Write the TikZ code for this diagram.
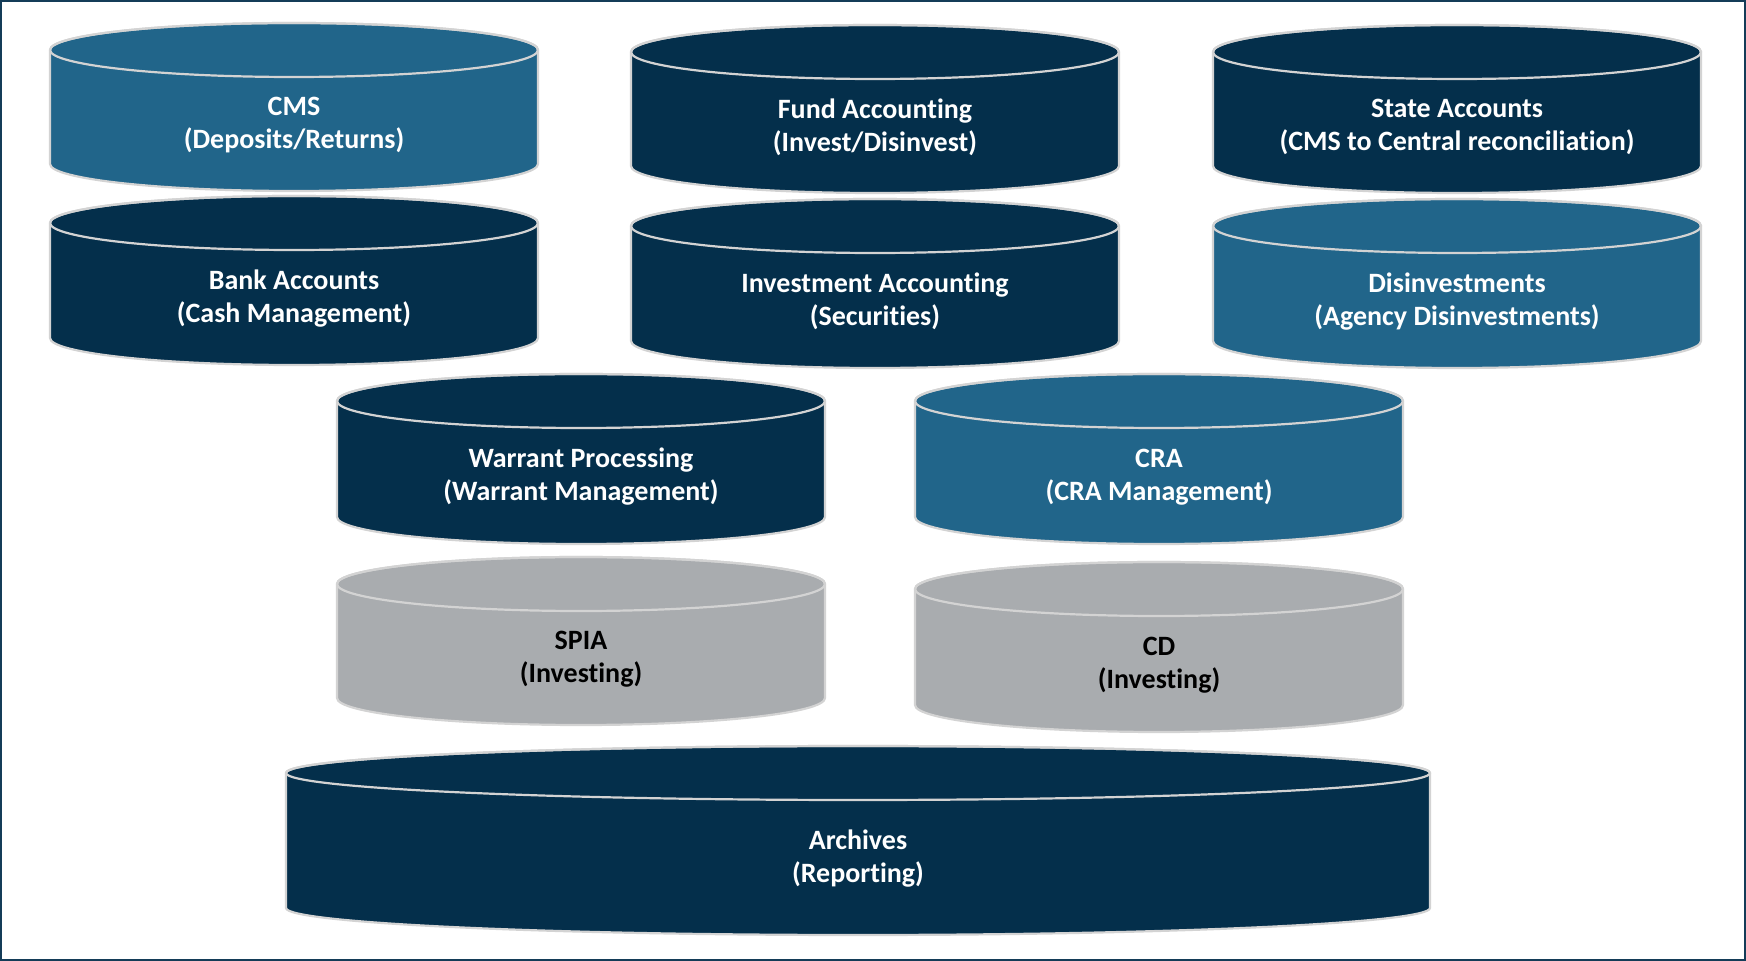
\documentclass[tikz,border=0pt]{standalone}
\usepackage{fontspec}
\setmainfont{Carlito}[Ligatures=NoCommon]
\usetikzlibrary{calc}
\definecolor{navy}{RGB}{4,47,75}
\definecolor{midblue}{RGB}{33,101,138}
\definecolor{silver}{RGB}{169,172,175}
\definecolor{rimgray}{RGB}{211,211,211}
\definecolor{framecol}{RGB}{20,60,88}
\tikzset{
 drum/.style={draw=rimgray, line width=1.1pt},
 lbl/.style={align=center, font=\bfseries\fontsize{14}{16.5}\selectfont, inner sep=0pt},
 frame/.style={draw=framecol, line width=1.2pt}
}
% name, centre x, top y, bottom y, half width, fill, text colour, first line, second line
\newcommand{\drumshape}[9]{%
 \filldraw[drum, fill=#6] (#2-#5,-#3) -- (#2-#5,-#4)
   arc[start angle=180, end angle=360, x radius=#5, y radius=27]
   -- (#2+#5,-#3)
   arc[start angle=0, end angle=180, x radius=#5, y radius=27] -- cycle;
 \draw[drum] (#2,-#3) ellipse[x radius=#5, y radius=27];
 \node[lbl, text=#7] (#1) at (#2,{-(#3+#4+27)/2-4.5}) {#8\\#9};
}

\begin{document}
\begin{tikzpicture}[x=0.5pt, y=0.5pt]
\useasboundingbox (0,0) rectangle (1746,-961);
\draw[frame] (1,-1) rectangle (1745,-960);
\drumshape{cms}{294}{50}{164}{244}{midblue}{white}{CMS}{(Deposits/Returns)}
\drumshape{fund}{875}{52}{166}{244}{navy}{white}{Fund Accounting}{(Invest/Disinvest)}
\drumshape{state}{1457}{52}{166}{244}{navy}{white}{State Accounts}{(CMS to Central reconciliation)}
\drumshape{bank}{294}{223}{338}{244}{navy}{white}{Bank Accounts}{(Cash Management)}
\drumshape{invest}{875}{226}{341}{244}{navy}{white}{Investment Accounting}{(Securities)}
\drumshape{disinv}{1457}{226}{341}{244}{midblue}{white}{Disinvestments}{(Agency Disinvestments)}
\drumshape{warrant}{581}{401}{517}{244}{navy}{white}{Warrant Processing}{(Warrant Management)}
\drumshape{cra}{1159}{401}{517}{244}{midblue}{white}{CRA}{(CRA Management)}
\drumshape{spia}{581}{584}{698}{244}{silver}{black}{SPIA}{(Investing)}
\drumshape{cd}{1159}{589}{705}{244}{silver}{black}{CD}{(Investing)}
\drumshape{archives}{858}{773}{908}{572}{navy}{white}{Archives}{(Reporting)}
\end{tikzpicture}
\end{document}
